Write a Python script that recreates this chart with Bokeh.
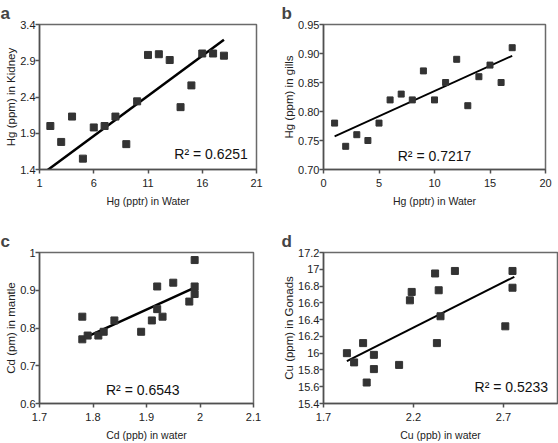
from bokeh.plotting import figure
from bokeh.layouts import row, column
from bokeh.models import FixedTicker, NumeralTickFormatter, Range1d, Label
from bokeh.embed import file_html
from bokeh.resources import INLINE

# ---- data: panel a (Hg kidney vs water) ----
a_x = [2, 3, 4, 5, 6, 7, 8, 9, 10, 11, 12, 13, 14, 15, 16, 17, 18]
a_y = [2.0, 1.78, 2.13, 1.55, 1.98, 2.0, 2.13, 1.75, 2.34, 2.98, 2.99, 2.91, 2.26, 2.56, 3.0, 3.0, 2.97]
a_fit_x = [1, 18]
a_fit_y = [1.31, 3.19]
a_r2 = "R² = 0.6251"
a_xticks = [1, 6, 11, 16, 21]
a_yticks = [1.4, 1.9, 2.4, 2.9, 3.4]

# ---- data: panel b (Hg gills vs water) ----
b_x = [1, 2, 3, 4, 5, 6, 7, 8, 9, 10, 11, 12, 13, 14, 15, 16, 17]
b_y = [0.78, 0.74, 0.76, 0.75, 0.78, 0.82, 0.83, 0.82, 0.87, 0.82, 0.85, 0.89, 0.81, 0.86, 0.88, 0.85, 0.91]
b_fit_x = [1, 17]
b_fit_y = [0.757, 0.896]
b_r2 = "R² = 0.7217"
b_xticks = [0, 5, 10, 15, 20]
b_yticks = [0.70, 0.75, 0.80, 0.85, 0.90, 0.95]

# ---- data: panel c (Cd mantle vs water) ----
c_x = [1.78, 1.78, 1.79, 1.81, 1.82, 1.84, 1.89, 1.91, 1.92, 1.92, 1.93, 1.95, 1.98, 1.99, 1.99, 1.99]
c_y = [0.83, 0.77, 0.78, 0.78, 0.79, 0.82, 0.79, 0.82, 0.91, 0.85, 0.83, 0.92, 0.87, 0.98, 0.91, 0.89]
c_fit_x = [1.78, 1.99]
c_fit_y = [0.771, 0.907]
c_r2 = "R² = 0.6543"
c_xticks = [1.7, 1.8, 1.9, 2.0, 2.1]
c_yticks = [0.6, 0.7, 0.8, 0.9, 1.0]

# ---- data: panel d (Cu gonads vs water) ----
d_x = [1.83, 1.87, 1.92, 1.94, 1.98, 1.98, 2.12, 2.18, 2.19, 2.32, 2.33, 2.34, 2.35, 2.43, 2.71, 2.75, 2.75]
d_y = [16.0, 15.89, 16.12, 15.65, 15.98, 15.81, 15.86, 16.63, 16.73, 16.95, 16.12, 16.75, 16.44, 16.98, 16.32, 16.98, 16.78]
d_fit_x = [1.83, 2.76]
d_fit_y = [15.905, 16.91]
d_r2 = "R² = 0.5233"
d_xticks = [1.7, 2.2, 2.7]
d_yticks = [15.4, 15.6, 15.8, 16.0, 16.2, 16.4, 16.6, 16.8, 17.0, 17.2]

FONT = "Liberation Sans"


def panel(letter, w, h, bl, br, bt, bb, xr, yr, xt, yt, xfmt, yfmt, xlab, ylab,
          xs, ys, fx, fy, r2, r2x, r2y, r2align, msize, lw):
    p = figure(width=w, height=h, output_backend="svg", toolbar_location=None,
               x_range=Range1d(*xr), y_range=Range1d(*yr),
               min_border_left=bl, min_border_right=br,
               min_border_top=bt, min_border_bottom=bb)
    p.title.text = letter
    p.title.text_font = FONT
    p.title.text_font_size = "17px"
    p.title.text_font_style = "bold"
    p.title.text_line_height = 1.0
    p.title.align = "left"
    p.title.offset = -bl
    p.title.standoff = 3
    p.grid.visible = False
    p.outline_line_color = "#6a6a6a"
    p.outline_line_width = 1.5
    p.background_fill_color = "white"
    p.border_fill_color = "white"
    for ax, ticks, fmt, lab in ((p.xaxis, xt, xfmt, xlab), (p.yaxis, yt, yfmt, ylab)):
        ax.ticker = FixedTicker(ticks=ticks)
        ax.formatter = NumeralTickFormatter(format=fmt)
        ax.axis_label = lab
        ax.axis_label_text_font = FONT
        ax.axis_label_text_font_style = "normal"
        ax.axis_label_text_color = "#222222"
        ax.major_label_text_font = FONT
        ax.major_label_text_font_size = "11px"
        ax.major_label_text_color = "#222222"
        ax.major_tick_in = 0
        ax.major_tick_out = 4
        ax.minor_tick_in = 0
        ax.minor_tick_out = 0
        ax.axis_line_color = "#505050"
        ax.axis_line_width = 1.5
        ax.major_tick_line_color = "#505050"
        ax.major_tick_line_width = 1.5
    p.xaxis.axis_label_text_font_size = "10.5px"
    p.xaxis.major_label_standoff = 5
    p.xaxis.axis_label_standoff = 5
    p.yaxis.axis_label_text_font_size = "11.5px"
    p.yaxis.major_label_standoff = 0
    p.yaxis.axis_label_standoff = 0
    p.line(fx, fy, line_color="black", line_width=lw)
    p.scatter(xs, ys, marker="square", size=msize, fill_color="#333333", line_color="#333333")
    p.add_layout(Label(x=r2x, y=r2y, text=r2, text_font=FONT, text_font_size="14px",
                       text_align=r2align, text_baseline="middle", text_color="#111111"))
    return p


pa = panel("a", 280, 222, 39, 24, 22, 53, (1, 21), (1.4, 3.4), a_xticks, a_yticks,
           "0", "0.0", "Hg (pptr) in Water", "Hg (ppm) in Kidney",
           a_x, a_y, a_fit_x, a_fit_y, a_r2, 20.2, 1.62, "right", 7, 2.5)
pb = panel("b", 278, 222, 42, 13, 22, 53, (0, 20), (0.70, 0.95), b_xticks, b_yticks,
           "0", "0.00", "Hg (pptr) in Water", "Hg (ppm) in gills",
           b_x, b_y, b_fit_x, b_fit_y, b_r2, 10.0, 0.723, "center", 6, 1.8)
pc = panel("c", 280, 221, 39, 27, 26, 38, (1.7, 2.1), (0.6, 1.0), c_xticks, c_yticks,
           "0.[0]", "0.[0]", "Cd (ppb) in water", "Cd (pm) in mantle",
           c_x, c_y, c_fit_x, c_fit_y, c_r2, 1.893, 0.636, "center", 7, 2.5)
pd = panel("d", 278, 221, 42, 1, 30, 38, (1.7, 3.0), (15.4, 17.2), d_xticks, d_yticks,
           "0.[0]", "0.[0]", "Cu (ppb) in water", "Cu (ppm) in Gonads",
           d_x, d_y, d_fit_x, d_fit_y, d_r2, 2.948, 15.6, "right", 7, 2.0)

layout = column(row(pa, pb), row(pc, pd))
open("out.html", "w").write(file_html(layout, INLINE))
